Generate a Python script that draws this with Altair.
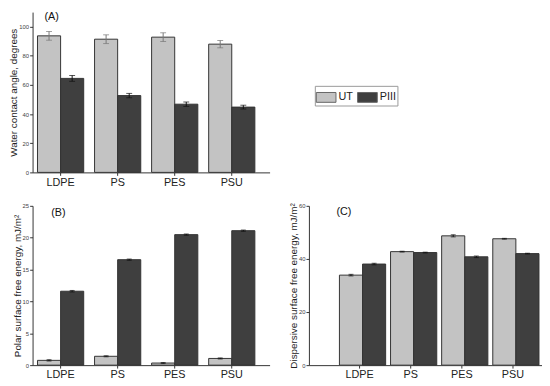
import altair as alt
import pandas as pd

materials = ["LDPE", "PS", "PES", "PSU"]
treatments = ["UT", "PIII"]

wca_ut = [93.7, 91.4, 92.8, 88.0]
wca_ut_err = [3.0, 3.0, 3.0, 2.5]
wca_piii = [64.5, 52.7, 46.8, 44.8]
wca_piii_err = [2.0, 1.5, 1.5, 1.3]

polar_ut = [0.75, 1.39, 0.33, 1.05]
polar_ut_err = [0.1, 0.08, 0.08, 0.08]
polar_piii = [11.6, 16.55, 20.48, 21.1]
polar_piii_err = [0.12, 0.1, 0.1, 0.1]

disp_ut = [33.9, 42.75, 48.7, 47.6]
disp_ut_err = [0.3, 0.15, 0.4, 0.15]
disp_piii = [38.07, 42.4, 40.8, 42.0]
disp_piii_err = [0.3, 0.15, 0.3, 0.15]

panel_labels = ["(A)", "(B)", "(C)"]
y_titles = ["Water contact angle, degrees",
            "Polar surface free energy, mJ/m\u00b2",
            "Dispersive surface free energy, mJ/m\u00b2"]

FONT = "Liberation Sans"


def frame(ut, ut_err, piii, piii_err):
    rows = []
    for i, m in enumerate(materials):
        rows.append({"material": m, "treatment": "UT", "value": ut[i],
                     "lo": ut[i] - ut_err[i], "hi": ut[i] + ut_err[i]})
        rows.append({"material": m, "treatment": "PIII", "value": piii[i],
                     "lo": piii[i] - piii_err[i], "hi": piii[i] + piii_err[i]})
    return pd.DataFrame(rows)


def panel(df, label, ytitle, ydomain, yticks, w, h, xscale, legend, lab_x, lab_y,
          err_ut_color, cap):
    base = alt.Chart(df)
    x = alt.X("material:N", sort=materials, scale=xscale,
              axis=alt.Axis(title=None, labelAngle=0, labelFontSize=11,
                            labelColor="#222", tickSize=3, labelPadding=1))
    xo = alt.XOffset("treatment:N", sort=treatments,
                     scale=alt.Scale(paddingInner=0, paddingOuter=0))
    yaxis = alt.Axis(title=ytitle, values=yticks, labelFontSize=6,
                     labelColor="#444", tickSize=3, labelPadding=1,
                     labelOverlap=False, labelFlush=False,
                     titleFontSize=10, titleFontWeight="normal",
                     titleColor="#222", titlePadding=0)
    y = alt.Y("value:Q", scale=alt.Scale(domain=ydomain, nice=False), axis=yaxis)
    bars = base.mark_bar(stroke="#333", strokeWidth=1).encode(
        x=x, xOffset=xo, y=y,
        fill=alt.Fill("treatment:N", sort=treatments,
                      scale=alt.Scale(domain=treatments, range=["#c3c3c3", "#3f3f3f"]),
                      legend=legend),
    )
    ecolor = alt.condition(alt.datum.treatment == "UT", alt.value(err_ut_color), alt.value("#111"))
    rule = base.mark_rule(strokeWidth=1).encode(
        x=x, xOffset=xo, y=alt.Y("lo:Q", axis=yaxis), y2="hi:Q", color=ecolor)
    cap_hi = base.mark_tick(orient="horizontal", size=cap, thickness=1).encode(
        x=x, xOffset=xo, y=alt.Y("hi:Q", axis=yaxis), color=ecolor)
    cap_lo = base.mark_tick(orient="horizontal", size=cap, thickness=1).encode(
        x=x, xOffset=xo, y=alt.Y("lo:Q", axis=yaxis), color=ecolor)
    txt = alt.Chart(pd.DataFrame({"t": [label]})).mark_text(
        align="left", baseline="middle", fontSize=11, font=FONT, color="#111"
    ).encode(x=alt.value(lab_x), y=alt.value(lab_y), text="t:N")
    return alt.layer(bars, rule, cap_hi, cap_lo, txt).properties(width=w, height=h)


legend_a = alt.Legend(
    title=None, orient="none", legendX=287, legendY=75, direction="horizontal",
    symbolType="M-1,-0.5H1V0.5H-1Z", symbolSize=400, symbolStrokeColor="#666",
    symbolStrokeWidth=1, labelFontSize=11, labelColor="#222", strokeColor="#999",
    padding=1, columnPadding=2, labelOffset=2,
)

scale_ab = alt.Scale(paddingInner=0.19, paddingOuter=0.172, align=0.25)
scale_c = alt.Scale(paddingInner=0.21, paddingOuter=0.385, align=0.775)

A = panel(frame(wca_ut, wca_ut_err, wca_piii, wca_piii_err), panel_labels[0], y_titles[0],
          [0, 110], [0, 20, 40, 60, 80, 100], 241, 163, scale_ab, legend_a, 12, 5,
          "#777", 6)
B = panel(frame(polar_ut, polar_ut_err, polar_piii, polar_piii_err), panel_labels[1], y_titles[1],
          [0, 25], [0, 5, 10, 15, 20, 25], 241, 162, scale_ab, None, 19, 7,
          "#111", 5)
C = panel(frame(disp_ut, disp_ut_err, disp_piii, disp_piii_err), panel_labels[2], y_titles[2],
          [0, 60], [0, 20, 40, 60], 237, 162, scale_c, None, 28, 6,
          "#111", 5)

bottom = alt.hconcat(B, C, spacing=40, bounds="flush").resolve_scale(fill="independent")
chart = alt.vconcat(A, bottom, spacing=34, bounds="flush").resolve_scale(
    fill="independent"
).properties(
    padding={"left": 0, "top": 0, "right": 0, "bottom": 0}
).configure(font=FONT).configure_view(stroke=None).configure_axis(
    grid=False, domainColor="#333", tickColor="#333", labelFont=FONT, titleFont=FONT
).configure_axisY(labelOverlap=False)

chart.save("out.html", embed_options={"renderer": "svg", "actions": False})
